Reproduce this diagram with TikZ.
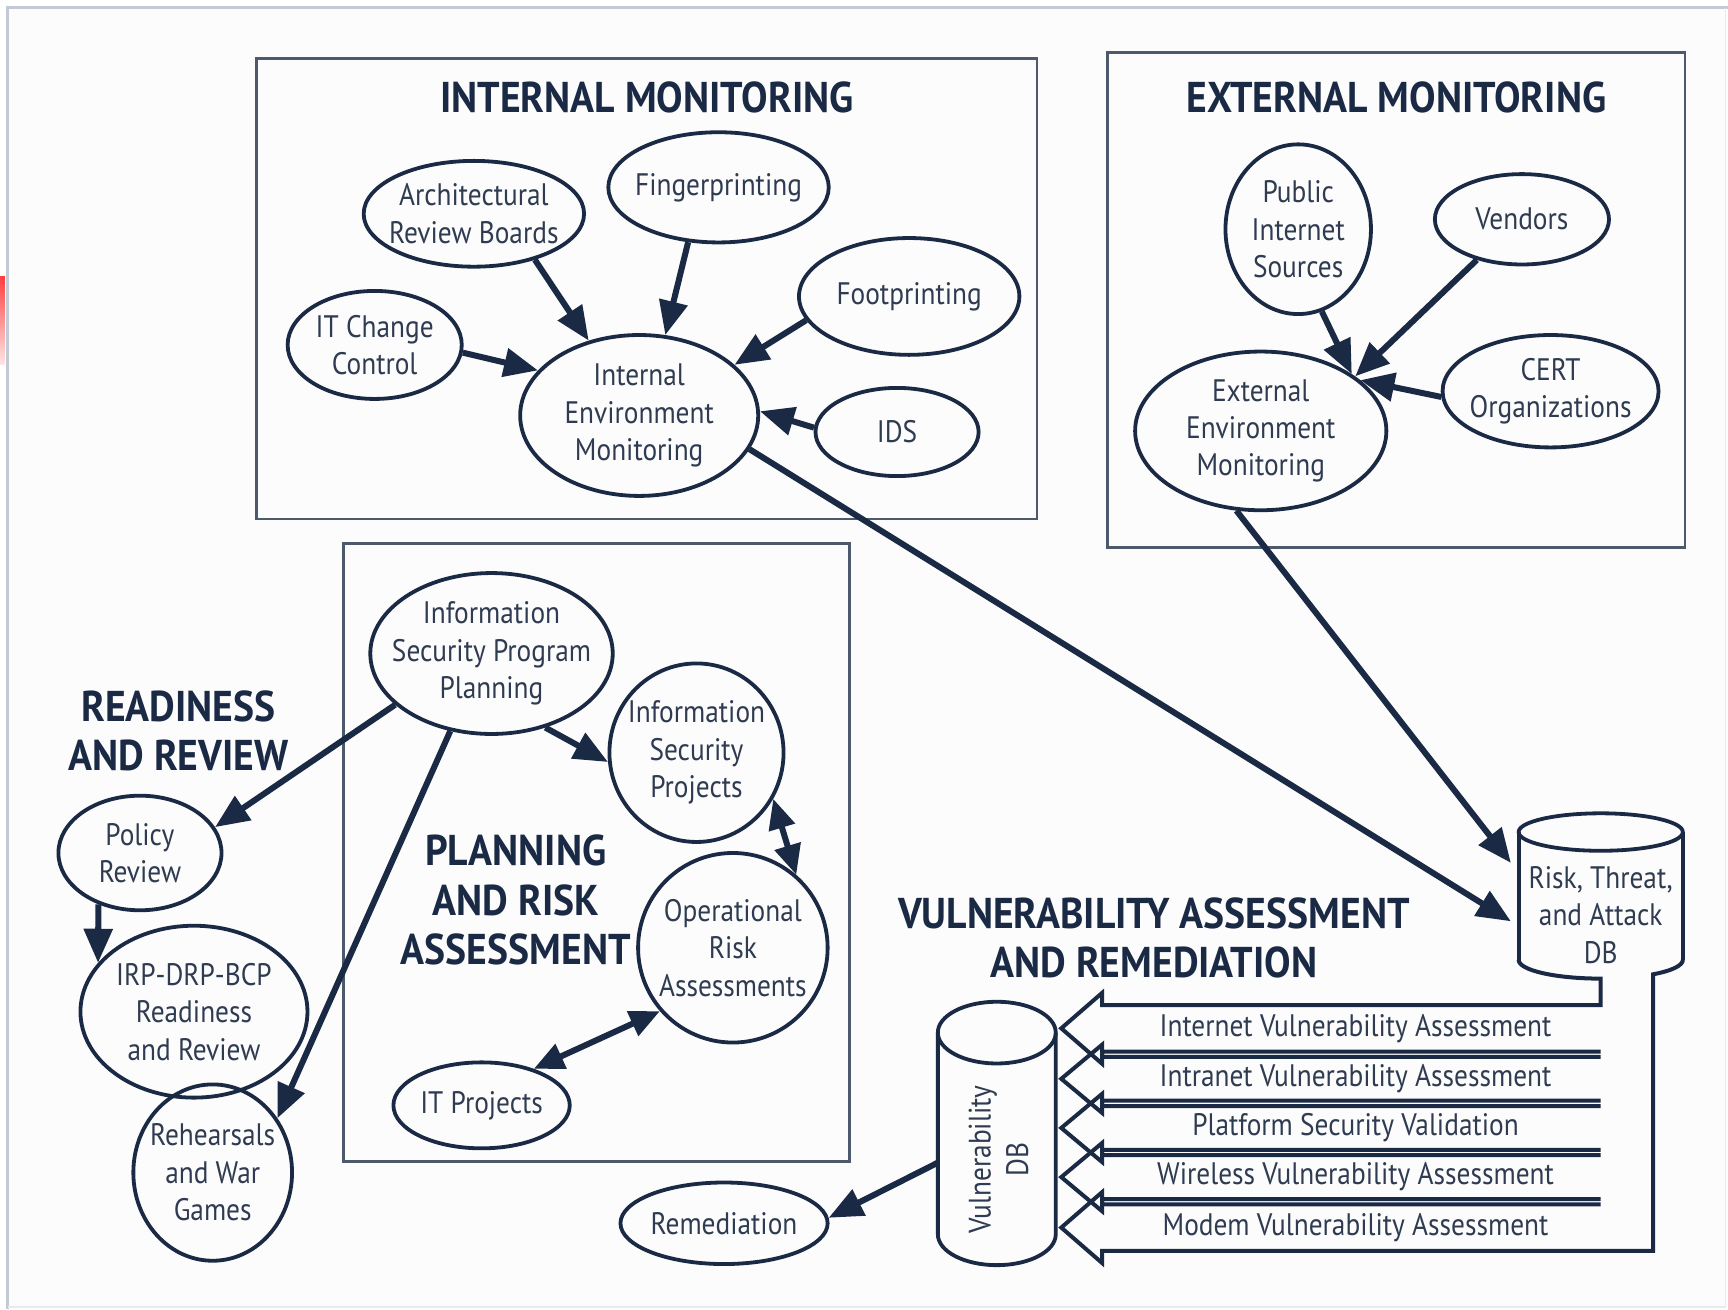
\documentclass[tikz,border=0pt]{standalone}
\usepackage{fontspec}
\usetikzlibrary{shapes.geometric,arrows.meta}
\newfontfamily\bodyf{PT Sans}[FakeStretch=0.88]
\newfontfamily\headf{PT Sans}[FakeStretch=0.92]
\definecolor{navy}{HTML}{1B2A44}
\definecolor{txtc}{HTML}{2F3B50}
\definecolor{boxc}{HTML}{4D5A6C}
\definecolor{framec}{HTML}{C3CAD4}
\definecolor{bgc}{HTML}{FCFCFD}
\tikzset{
  ell/.style={draw=navy, line width=1.9pt, ellipse, inner sep=0pt},
  txt/.style={align=center, text=txtc, inner sep=0pt, font=\bodyf\fontsize{15.5pt}{18.7pt}\selectfont},
  head/.style={align=center, text=navy, inner sep=0pt, font=\headf\bfseries\fontsize{21.5pt}{24.7pt}\selectfont},
  conn/.style={draw=navy, line width=3pt, -{Triangle[length=17pt,width=14pt]}},
  dconn/.style={draw=navy, line width=3pt, {Triangle[length=15pt,width=13pt]}-{Triangle[length=15pt,width=13pt]}},
  grp/.style={draw=boxc, line width=1.4pt},
  vline/.style={draw=navy, line width=2pt, line join=miter},
  cyl/.style={draw=navy, line width=1.9pt},
}
\newcommand\myell[6]{%
  \node[ell, minimum width={#4*1.1pt}, minimum height={#5*1.1pt}] (#1) at (#2,#3) {};
  \node[txt] (#1t) at (#1.center) {#6};}
\begin{document}
\begin{tikzpicture}[x=0.55pt,y=-0.55pt]
\useasboundingbox (0,0) rectangle (1568,1188);
\fill[white] (0,0) rectangle (1568,1188);
\fill[bgc] (7,7) rectangle (1566,1186);
\draw[framec, line width=1.6pt] (7,1188) -- (7,7) -- (1568,7);
\draw[framec!40, line width=0.6pt] (1566,7) -- (1566,1186) -- (7,1186);
\shade[top color=red!75, bottom color=red!10] (0,251) rectangle (4.5,331);

% group boxes
\draw[grp] (233,53) rectangle (941,471);
\draw[grp] (1005,48) rectangle (1529,497);
\draw[grp] (312,493) rectangle (771,1054);

% headers
\node[head] (hint) at (587,88) {INTERNAL MONITORING};
\node[head] (hext) at (1267,88) {EXTERNAL MONITORING};
\node[head] (hrr) at (162,663) {READINESS\\AND REVIEW};
\node[head] (hpr) at (468,817) {PLANNING\\AND RISK\\ASSESSMENT};
\node[head] (hvar) at (1047,851) {VULNERABILITY ASSESSMENT\\AND REMEDIATION};

% ellipses
\myell{arb}{430}{194}{100}{48}{Architectural\\Review Boards}
\myell{fing}{652}{170}{100}{50}{Fingerprinting}
\myell{foot}{825}{269}{100}{53}{Footprinting}
\myell{itcc}{340}{313}{79}{49}{IT Change\\Control}
\myell{iem}{580}{377}{108}{73}{Internal\\Environment\\Monitoring}
\myell{ids}{814}{392}{74}{40}{IDS}
\myell{pis}{1178}{208}{66}{77}{Public\\Internet\\Sources}
\myell{vend}{1381}{199}{79}{41}{Vendors}
\myell{cert}{1407}{355}{98}{51}{CERT\\Organizations}
\myell{eem}{1144}{391}{114}{72}{External\\Environment\\Monitoring}
\myell{ispp}{446}{593}{110}{73}{Information\\Security Program\\Planning}
\myell{isproj}{632}{683}{79}{81}{Information\\Security\\Projects}
\myell{ora}{665}{860}{86}{86}{Operational\\Risk\\Assessments}
\myell{itp}{437}{1003}{80}{39}{IT Projects}
\myell{pol}{127}{774}{74}{52}{Policy\\Review}
\myell{irp}{176}{918}{103}{78}{IRP-DRP-BCP\\Readiness\\and Review}
\myell{reh}{193}{1064}{72}{80}{Rehearsals\\and War\\Games}
\myell{rem}{657}{1110}{94}{37}{Remediation}

% Risk DB cylinder
\draw[cyl] (1452.5,755) ellipse[x radius=74.5, y radius=17];
\draw[cyl] (1378,755) -- (1378,871);
\draw[cyl] (1527,755) -- (1527,871);
\node[txt] (rdb) at (1452.5,830) {Risk, Threat,\\and Attack\\DB};
\coordinate (rdbA) at (1371,836);
\coordinate (rdbB) at (1371,783);

% Vulnerability DB cylinder
\draw[cyl] (904.5,937) ellipse[x radius=53.5, y radius=28];
\draw[cyl] (851,937) -- (851,1120) arc[start angle=180, end angle=0, x radius=53.5, y radius=28] -- (958,937);
\node[txt, rotate=90] (vdb) at (906,1052) {Vulnerability\\DB};
\coordinate (vdbl) at (851,1055);

% connectors internal
\draw[conn] (arb.-37) -- (iem.124);
\draw[conn] (fing.-119) -- (iem.72);
\draw[conn] (foot.-167) -- (iem.28);
\draw[conn] (itcc.-5) -- (iem.156);
\draw[conn] (ids.177) -- (iem.2);
\draw[conn] (iem.-17) -- (rdbA);
% external
\draw[conn] (pis.-74) -- (eem.32);
\draw[conn] (vend.-138) -- (eem.30);
\draw[conn] (cert.-177) -- (eem.27);
\draw[conn] (eem.-107) -- (rdbB);
% planning
\draw[conn] (ispp.-152) -- (pol.19);
\draw[conn] (ispp.-118) -- (reh.40);
\draw[conn] (ispp.-54) -- (isproj.186);
\draw[dconn] (isproj.-31) -- (ora.49);
\draw[dconn] (ora.-139) -- (itp.35);
\draw[conn] (pol.-129) -- (irp.153);
\draw[conn] (vdbl) -- (rem.3);

% vulnerability block arrows
\draw[vline] (1378,871) arc[start angle=180, end angle=90, x radius=74.5, y radius=17]
  -- (1452.5,912) -- (1000,912) -- (1000,901) -- (963,933.1) -- (1000,965.2) -- (1000,954.2) -- (1452.5,954.2);
\draw[vline] (1452.5,959) -- (1000,959) -- (1000,948) -- (963,978.9) -- (1000,1009.8) -- (1000,998.8) -- (1452.5,998.8);
\draw[vline] (1452.5,1003.6) -- (1000,1003.6) -- (1000,992.6) -- (963,1023.5) -- (1000,1054.4) -- (1000,1043.4) -- (1452.5,1043.4);
\draw[vline] (1452.5,1048.2) -- (1000,1048.2) -- (1000,1037.2) -- (963,1068.1) -- (1000,1099) -- (1000,1088) -- (1452.5,1088);
\draw[vline] (1527,871) arc[start angle=0, end angle=50.4, x radius=74.5, y radius=17]
  -- (1500,1135) -- (1000,1135) -- (1000,1146) -- (963,1113.9) -- (1000,1081.8) -- (1000,1092.8) -- (1452.5,1092.8);

\node[txt] (va1) at (1230,933.1) {Internet Vulnerability Assessment};
\node[txt] (va2) at (1230,978.9) {Intranet Vulnerability Assessment};
\node[txt] (va3) at (1230,1023.5) {Platform Security Validation};
\node[txt] (va4) at (1230,1068.1) {Wireless Vulnerability Assessment};
\node[txt] (va5) at (1230,1113.9) {Modem Vulnerability Assessment};
\end{tikzpicture}
\end{document}
